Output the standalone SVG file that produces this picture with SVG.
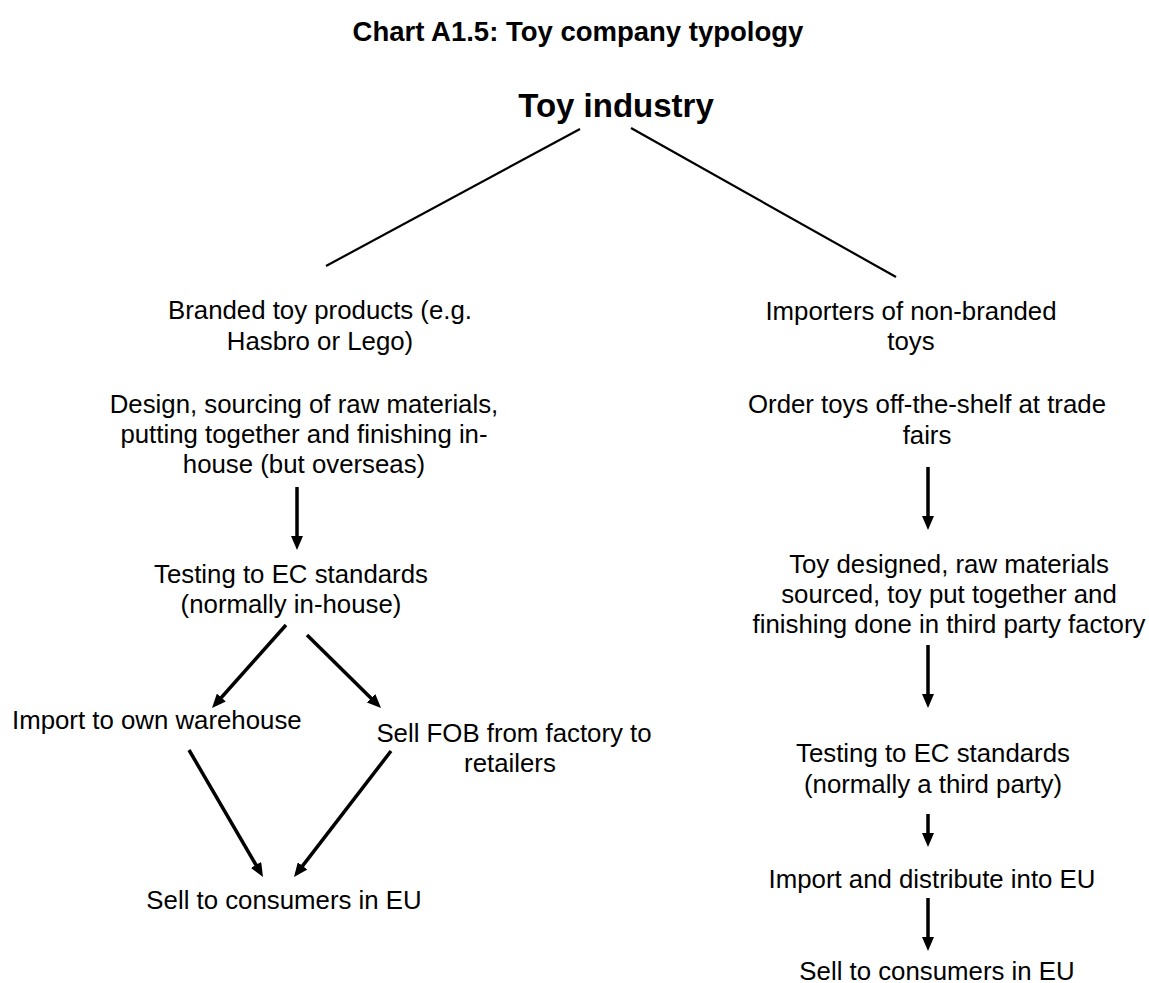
<svg xmlns="http://www.w3.org/2000/svg" width="1149" height="983" viewBox="0 0 1149 983">
<style>
text{font-family:"Liberation Sans",Arial,sans-serif;fill:#000;}
.b{font-size:25.8px;text-anchor:middle;}
.s{font-size:25.8px;text-anchor:start;}
.title{font-size:27.5px;font-weight:bold;text-anchor:middle;}
.root{font-size:33px;font-weight:bold;text-anchor:middle;}
.thin{stroke:#000;stroke-width:2.2;fill:none;}
.arr{stroke:#000;stroke-width:3.5;fill:none;marker-end:url(#ah);}
</style>
<defs>
<marker id="ah" markerUnits="userSpaceOnUse" markerWidth="14" markerHeight="12" viewBox="0 0 14 12" refX="4" refY="6" orient="auto">
<path d="M0,0 L14,6 L0,12 z" fill="#000"/>
</marker>
</defs>
<rect width="1149" height="983" fill="#fff"/>
<g id="title"><text class="title" x="578" y="41">Chart A1.5: Toy company typology</text></g>
<g id="toy-industry"><text class="root" x="616" y="117">Toy industry</text></g>
<g id="branded"><text class="b" x="320" y="319">Branded toy products (e.g.</text><text class="b" x="320" y="350">Hasbro or Lego)</text></g>
<g id="design"><text class="b" x="304" y="413">Design, sourcing of raw materials,</text><text class="b" x="304" y="443">putting together and finishing in-</text><text class="b" x="304" y="473">house (but overseas)</text></g>
<g id="testing-left"><text class="b" x="291" y="583">Testing to EC standards</text><text class="b" x="291" y="613">(normally in-house)</text></g>
<g id="import-warehouse"><text class="s" x="12" y="729">Import to own warehouse</text></g>
<g id="sell-fob"><text class="b" x="514" y="742">Sell FOB from factory to</text><text class="b" x="510" y="772">retailers</text></g>
<g id="sell-left"><text class="b" x="284" y="909">Sell to consumers in EU</text></g>
<g id="importers"><text class="b" x="911" y="320">Importers of non-branded</text><text class="b" x="911" y="350">toys</text></g>
<g id="order"><text class="b" x="927" y="413">Order toys off-the-shelf at trade</text><text class="b" x="927" y="444">fairs</text></g>
<g id="toy-designed"><text class="b" x="949" y="573">Toy designed, raw materials</text><text class="b" x="949" y="603">sourced, toy put together and</text><text class="b" x="949" y="633">finishing done in third party factory</text></g>
<g id="testing-right"><text class="b" x="933" y="762">Testing to EC standards</text><text class="b" x="933" y="793">(normally a third party)</text></g>
<g id="import-distribute"><text class="b" x="932" y="888">Import and distribute into EU</text></g>
<g id="sell-right"><text class="b" x="937" y="980">Sell to consumers in EU</text></g>
<g id="connectors">
<line class="thin" x1="580" y1="129" x2="326" y2="266"/>
<line class="thin" x1="631" y1="128" x2="896" y2="277"/>
<line class="arr" x1="297" y1="487" x2="297" y2="540"/>
<line class="arr" x1="286" y1="625" x2="218.7" y2="700.5"/>
<line class="arr" x1="307" y1="635" x2="373.9" y2="701"/>
<line class="arr" x1="189" y1="750" x2="258" y2="868.4"/>
<line class="arr" x1="391" y1="751" x2="300.1" y2="869.1"/>
<line class="arr" x1="928" y1="467" x2="928" y2="520"/>
<line class="arr" x1="928" y1="645" x2="928" y2="698"/>
<line class="arr" x1="928" y1="814" x2="928" y2="837"/>
<line class="arr" x1="928" y1="898" x2="928" y2="941"/>
</g>
</svg>
